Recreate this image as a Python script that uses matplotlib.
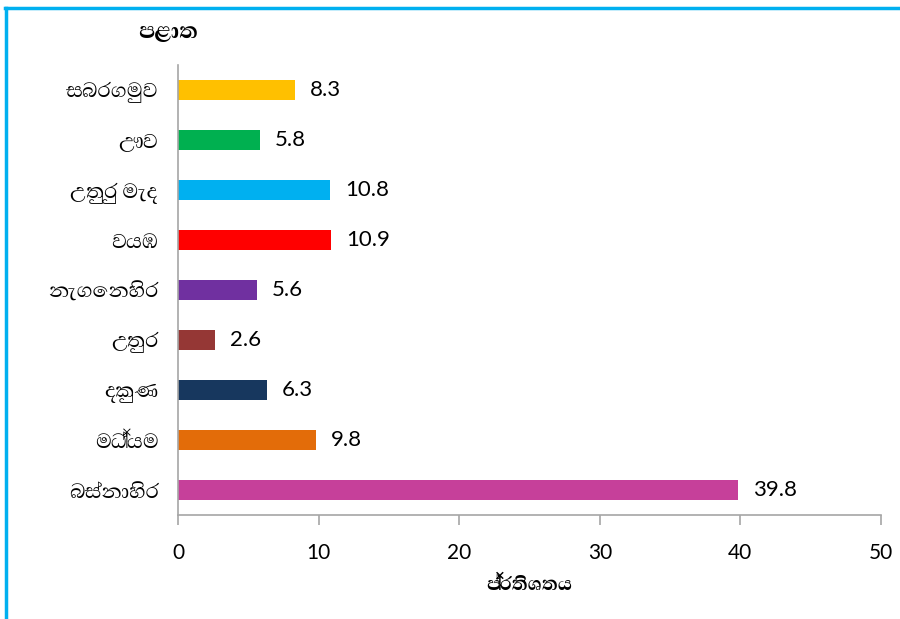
import matplotlib
matplotlib.use("Agg")
import matplotlib.pyplot as plt
from matplotlib import font_manager
from matplotlib.ft2font import FT2Font
from matplotlib.lines import Line2D

# Provinces (top to bottom as drawn) and their percentage share
provinces = ["සබරගමුව", "ඌව", "උතුරු මැද", "වයඹ", "නැගෙනහිර",
             "උතුර", "දකුණ", "මධ්‍යම", "බස්නාහිර"]
percent = [8.3, 5.8, 10.8, 10.9, 5.6, 2.6, 6.3, 9.8, 39.8]
colors = ["#FFC000", "#00B050", "#00B0F0", "#FF0000", "#7030A0",
          "#953735", "#17375E", "#E36C09", "#C6409A"]
x_ticks = [0, 10, 20, 30, 40, 50]
title_text = "පළාත"
xlabel_text = "ප්‍රතිශතය"

PREFERRED = ("sinhala", "iskoola", "abhaya", "yaldevi", "lohit", "malithi")


def sinhala_fonts():
    """Installed fonts covering Sinhala, best-suited ones first."""
    found = []
    for path in font_manager.findSystemFonts():
        try:
            cmap = FT2Font(path).get_charmap()
        except Exception:
            continue
        if 0x0D9A in cmap and 0x0DCA in cmap:
            try:
                prop = font_manager.FontProperties(fname=path)
                name = prop.get_name()
            except Exception:
                continue
            rank = 0 if any(k in name.lower() for k in PREFERRED) else 1
            found.append((rank, name, path, 0x200D in cmap))
    found.sort()
    return found


fonts = sinhala_fonts()
if fonts:
    sinhala_name, has_zwj = fonts[0][1], fonts[0][3]
else:
    sinhala_name, has_zwj = None, False


def shown(s):
    # Drop the zero-width joiner when the font has no glyph for it
    return s if has_zwj else s.replace("\u200d", "")


text_family = ([sinhala_name] if sinhala_name else []) + ["DejaVu Sans"]
num_family = ["Lato", "DejaVu Sans"]

W, H = 900, 619
fig = plt.figure(figsize=(W / 100, H / 100), dpi=100)
fig.patch.set_facecolor("white")

# Plot area in pixel coordinates
left_px, right_px, top_px, bottom_px = 178, 881, 65, 515
ax = fig.add_axes([left_px / W, 1 - bottom_px / H,
                   (right_px - left_px) / W, (bottom_px - top_px) / H])

n = len(provinces)
ypos = list(range(n - 1, -1, -1))
ax.barh(ypos, percent, height=0.4, color=colors, zorder=2)

for y, v in zip(ypos, percent):
    ax.annotate(f"{v}", xy=(v, y), xytext=(11, 0), textcoords="offset points",
                ha="left", va="center", fontsize=16, family=num_family,
                color="black")

ax.set_xlim(0, 50)
ax.set_ylim(-0.5, n - 0.5)
ax.set_xticks(x_ticks)
ax.set_xticklabels([str(t) for t in x_ticks], family=num_family, fontsize=15)
ax.set_yticks(ypos)
ax.set_yticklabels([shown(p) for p in provinces], family=text_family,
                   fontsize=19)

for side in ("top", "right"):
    ax.spines[side].set_visible(False)
for side in ("left", "bottom"):
    ax.spines[side].set_color("#A6A6A6")
    ax.spines[side].set_linewidth(1.2)

ax.tick_params(axis="x", direction="out", length=7, width=1.2, color="#A6A6A6",
               pad=13)
ax.tick_params(axis="y", length=0, pad=14)

# Titles
fig.text(168 / W, 1 - 32 / H, shown(title_text), ha="center", va="center",
         fontsize=20, fontweight="bold", family=text_family)
fig.text((left_px + right_px) / 2 / W, 1 - 585 / H, shown(xlabel_text),
         ha="center", va="center", fontsize=17, fontweight="bold",
         family=text_family)

# Frame around the chart (top and left edges visible)
fig.add_artist(Line2D([5 / W, 1.0], [1 - 8 / H, 1 - 8 / H],
                      transform=fig.transFigure, color="#00B0F0", lw=2.5))
fig.add_artist(Line2D([6 / W, 6 / W], [1 - 8 / H, 0.0],
                      transform=fig.transFigure, color="#00B0F0", lw=2.5))

fig.savefig("out.png", dpi=100, facecolor="white")
